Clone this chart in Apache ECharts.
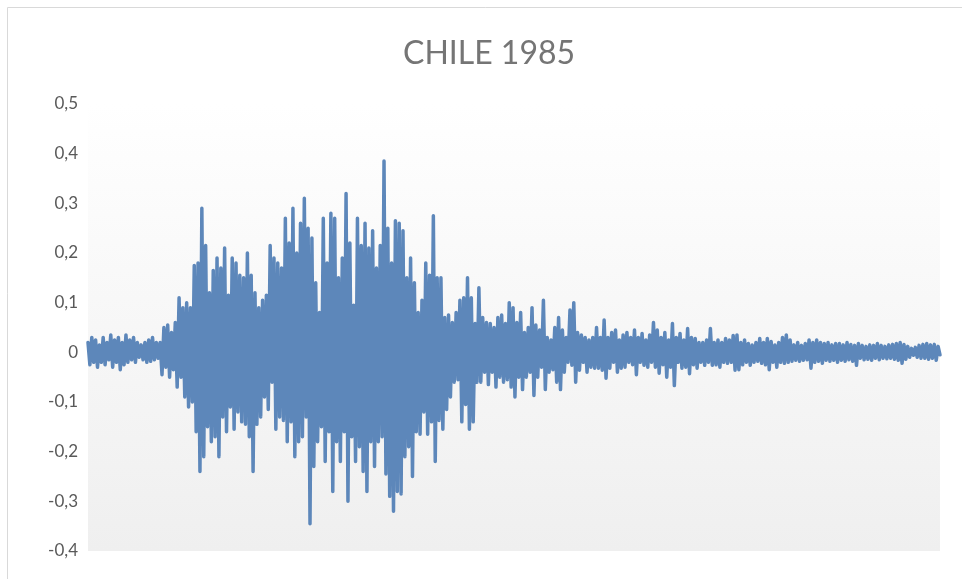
<!DOCTYPE html>
<html>
<head>
<meta charset="utf-8">
<script src="https://cdn.jsdelivr.net/npm/echarts@6/dist/echarts.min.js"></script>
<style>
  html, body { margin: 0; padding: 0; background: #fff; }
  #chart { width: 962px; height: 579px; }
</style>
</head>
<body>
<div id="chart"></div>
<script>
// amplitude readings, left to right, split by phase of the record
var quietStart = [0.02,-0.025,0.03,-0.02,0.025,-0.03,0.015,-0.02,0.03,-0.025,0.02,-0.015,0.035,-0.03,0.025,-0.02,0.03,-0.035,0.02,-0.025,
    0.035,-0.02,0.025,-0.015,0.03,-0.02,0.02,-0.01,0.015,-0.015,0.02,-0.02,0.025,-0.018,0.03,-0.015,0.02,-0.012];
var onset = [0.02,-0.045,0.05,-0.03,0.055,-0.05,0.04,-0.035,0.06,-0.07,0.11,-0.05,0.09,-0.09,0.1,-0.11,0.09,-0.1,0.175];
var burst1 = [-0.16,0.18,-0.24,0.29,-0.21,0.215,-0.15,0.12,-0.18,0.165,-0.17,0.19,-0.21,0.17,-0.13,0.21,-0.16,0.115,-0.11,0.19,
    -0.155,0.18,-0.12,0.155,-0.14,0.15,-0.145,0.2,-0.17,0.155,-0.24,0.12,-0.145,0.09,-0.13,0.105,-0.09,0.115,-0.115,0.215,
    -0.06,0.19,-0.155,0.18,-0.13,0.17,-0.137,0.27,-0.18,0.22,-0.14,0.29,-0.21,0.2,-0.18];
var burst2 = [0.26,-0.17,0.31,-0.13,0.25,-0.345,0.23,-0.23,0.14,-0.18,0.08,-0.15,0.27,-0.22,0.18,-0.16,0.28,-0.28,0.27,-0.18,
    0.15,-0.22,0.19,-0.16,0.32,-0.3,0.22,-0.17,0.095,-0.22,0.27,-0.19,0.215,-0.24,0.26,-0.28,0.21,-0.18,0.245,-0.23,
    0.17,-0.18,0.215,-0.17,0.385,-0.245,0.25,-0.29,0.18,-0.32,0.265,-0.28,0.26,-0.285];
var decay1 = [0.245,-0.21,0.15,-0.19,0.19,-0.25,0.14,-0.16,0.08,-0.165,0.105,-0.12,0.18,-0.165,0.155,-0.14,0.275,-0.22,0.15,-0.137,
    0.15,-0.155,0.07,-0.115,0.075,-0.09,0.06,-0.06,0.08,-0.055,0.105,-0.14,0.11,-0.105,0.15,-0.155,0.11,-0.14,0.058,-0.06,
    0.13,-0.06,0.07,-0.04,0.06,-0.065,0.058,-0.04,0.05,-0.07,0.07,-0.05,0.075,-0.06,0.058,-0.055,0.1,-0.07];
var decay2 = [0.09,-0.09,0.06,-0.05,0.08,-0.075,0.04,-0.05,0.05,-0.04,0.09,-0.087,0.055,-0.05,0.045,-0.03,0.105,-0.075,0.03,-0.04,
    0.025,-0.035,0.05,-0.06,0.07,-0.075,0.045,-0.04,0.03,-0.02,0.085,-0.026,0.1,-0.06,0.04,-0.036,0.035,-0.02,0.03,-0.04,
    0.025,-0.03,0.03,-0.032,0.05,-0.032,0.03,-0.036,0.065,-0.052,0.03,-0.032,0.04,-0.02,0.045,-0.04,0.025,-0.032];
var coda1 = [0.035,-0.03,0.04,-0.02,0.03,-0.025,0.045,-0.045,0.03,-0.02,0.038,-0.026,0.025,-0.03,0.035,-0.02,0.06,-0.03,0.045,-0.042,
    0.03,-0.025,0.04,-0.05,0.025,-0.03,0.058,-0.067,0.03,-0.02,0.038,-0.032,0.025,-0.03,0.048,-0.043,0.03,-0.025,0.028,-0.032,
    0.02,-0.02,0.02,-0.026,0.025,-0.02,0.048,-0.026,0.02,-0.025,0.025,-0.03,0.02,-0.02,0.028,-0.022,0.025,-0.02,0.034,-0.036];
var coda2 = [0.035,-0.035,0.02,-0.025,0.025,-0.02,0.018,-0.026,0.015,-0.02,0.02,-0.018,0.028,-0.022,0.02,-0.025,0.028,-0.035,0.022,-0.02,
    0.015,-0.03,0.02,-0.02,0.03,-0.022,0.035,-0.02,0.025,-0.018,0.015,-0.016,0.02,-0.018,0.014,-0.016,0.018,-0.015,0.025,-0.032,
    0.02,-0.02,0.025,-0.018,0.02,-0.022,0.018,-0.016,0.02,-0.018,0.015,-0.016,0.018,-0.02];
var coda3 = [0.018,-0.016,0.015,-0.018,0.02,-0.015,0.016,-0.018,0.014,-0.026,0.018,-0.012,0.014,-0.015,0.012,-0.014,0.015,-0.016,0.014,-0.012,
    0.018,-0.015,0.014,-0.012,0.012,-0.013,0.015,-0.012,0.016,-0.014,0.018,-0.016,0.02,-0.022,0.016,-0.014,0.012,-0.01,0.008,-0.006,
    0.01,-0.01,0.014,-0.012,0.016,-0.012,0.018,-0.014,0.015,-0.012,0.016,-0.016,0.012,-0.005];

var yTicks = [-0.4,-0.3,-0.2,-0.1,0,0.1,0.2,0.3,0.4,0.5];

var values = quietStart.concat(onset, burst1, burst2, decay1, decay2, coda1, coda2, coda3);
var samples = [];
for (var i = 0; i < values.length; i++) samples.push(i);

var chart = echarts.init(document.getElementById('chart'));

var option = {
    animation: false,
    title: {
        text: 'CHILE 1985',
        left: 398,
        top: 33,
        textStyle: { fontFamily: 'Lato', fontSize: 32, fontWeight: 'normal', color: '#757575' }
    },
    graphic: [{
        type: 'rect',
        left: 5, top: 5,
        shape: { width: 980, height: 600 },
        style: { fill: 'none', stroke: '#d9d9d9', lineWidth: 1 },
        silent: true
    }],
    grid: {
        left: 88, right: 22, top: 104, bottom: 28,
        show: true,
        borderWidth: 0,
        backgroundColor: new echarts.graphic.LinearGradient(0, 0, 0, 1, [
            { offset: 0, color: '#ffffff' },
            { offset: 0.12, color: '#fdfdfd' },
            { offset: 1, color: '#efefef' }
        ])
    },
    xAxis: {
        type: 'category',
        data: samples,
        boundaryGap: false,
        axisLine: { show: false },
        axisTick: { show: false },
        axisLabel: { show: false },
        splitLine: { show: false }
    },
    yAxis: {
        type: 'value',
        min: yTicks[0],
        max: yTicks[yTicks.length - 1],
        interval: 0.1,
        axisLine: { show: false },
        axisTick: { show: false },
        splitLine: { show: false },
        axisLabel: {
            margin: 10,
            fontFamily: 'Lato',
            fontSize: 17,
            color: '#595959',
            formatter: function (v) {
                var r = Math.round(v * 10) / 10;
                return r === 0 ? '0' : r.toFixed(1).replace('.', ',');
            }
        }
    },
    series: [{
        type: 'line',
        data: values,
        showSymbol: false,
        lineStyle: { color: '#5d87ba', width: 3.5, cap: 'round', join: 'round' }
    }]
};

chart.setOption(option);
</script>
</body>
</html>
